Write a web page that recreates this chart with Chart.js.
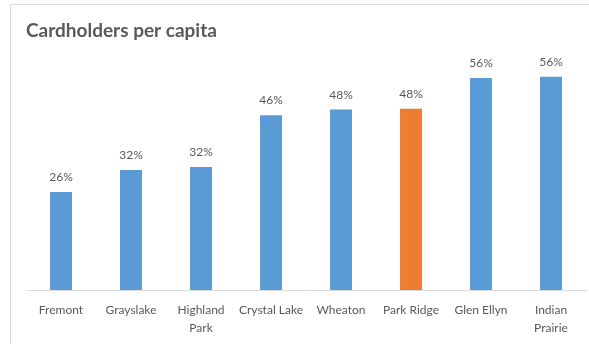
<!DOCTYPE html>
<html>
<head>
<meta charset="utf-8">
<script src="https://cdn.jsdelivr.net/npm/chart.js@4/dist/chart.umd.min.js"></script>
<style>
  html, body { margin: 0; padding: 0; background: #fff; }
  #wrap { position: relative; width: 589px; height: 344px; overflow: hidden; }
  #frame { position: absolute; left: 10px; top: 4px; width: 700px; height: 400px;
           border-left: 1px solid #d9d9d9; border-top: 1px solid #d9d9d9; }
  canvas { position: absolute; left: 0; top: 0; }
</style>
</head>
<body>
<div id="wrap">
  <div id="frame"></div>
  <canvas id="c" width="589" height="344"></canvas>
</div>
<script>
// Library card share of population, by community
const categories = ['Fremont', 'Grayslake', ['Highland', 'Park'], 'Crystal Lake', 'Wheaton',
                    'Park Ridge', 'Glen Ellyn', ['Indian', 'Prairie']];
const cardholderShare = [0.258, 0.316, 0.324, 0.460, 0.475, 0.477, 0.558, 0.561];
const highlightIndex = 5; // Park Ridge
const barColors = categories.map((_, i) => i === highlightIndex ? '#ED7D31' : '#5B9BD5');

const FONT = 'Lato, "Open Sans", sans-serif';
const GRAY = '#595959';

// Percentage labels above each bar
const valueLabels = {
  id: 'valueLabels',
  afterDatasetsDraw(chart) {
    const ctx = chart.ctx;
    const meta = chart.getDatasetMeta(0);
    ctx.save();
    ctx.font = '12px ' + FONT;
    ctx.fillStyle = GRAY;
    ctx.textAlign = 'center';
    ctx.textBaseline = 'alphabetic';
    meta.data.forEach((bar, i) => {
      const v = chart.data.datasets[0].data[i];
      ctx.fillText(Math.round(v * 100) + '%', bar.x, bar.y - 11);
    });
    ctx.restore();
  }
};

new Chart(document.getElementById('c'), {
  type: 'bar',
  data: {
    labels: categories,
    datasets: [{
      data: cardholderShare,
      backgroundColor: barColors,
      borderWidth: 0,
      barPercentage: 0.314,
      categoryPercentage: 1
    }]
  },
  options: {
    responsive: false,
    animation: false,
    devicePixelRatio: 1,
    layout: { padding: { left: 26, right: 3, top: 0, bottom: 0 } },
    plugins: {
      legend: { display: false },
      tooltip: { enabled: false },
      title: {
        display: true,
        text: 'Cardholders per capita',
        align: 'start',
        color: GRAY,
        font: { family: FONT, size: 19, weight: 'bold', lineHeight: 1.2 },
        padding: { top: 19.5, bottom: 19.7 }
      }
    },
    scales: {
      y: { display: false, min: 0, max: 0.6 },
      x: {
        grid: { display: false },
        border: { display: true, color: '#d9d9d9', width: 1 },
        ticks: {
          color: GRAY,
          font: { family: FONT, size: 12, lineHeight: 1.5 },
          padding: 3,
          maxRotation: 0,
          autoSkip: false
        },
        afterFit(scale) { scale.height = 54; }
      }
    }
  },
  plugins: [valueLabels]
});
</script>
</body>
</html>
